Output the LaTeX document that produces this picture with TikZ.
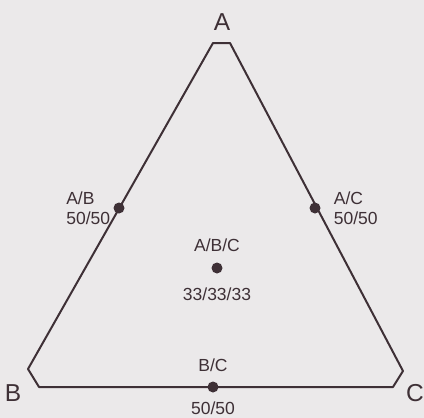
\documentclass[tikz,border=0pt]{standalone}
\usepackage{fontspec}
\setmainfont{Liberation Sans}
\definecolor{paper}{RGB}{235,233,234}
\definecolor{ink}{RGB}{62,48,54}
\tikzset{
  edge/.style={draw=ink,line width=2pt,line join=round},
  dot/.style={circle,fill=ink,inner sep=0pt,minimum size=11pt},
  corner/.style={text=ink,inner sep=0pt,font=\fontsize{24.5}{28}\selectfont},
  mix/.style={text=ink,inner sep=0pt,align=left,font=\fontsize{17.5}{20}\selectfont}
}
\begin{document}
\begin{tikzpicture}[x=1pt,y=-1pt]
   \fill[paper] (0,0) rectangle (424,418);
   \useasboundingbox (0,0) rectangle (424,418);
   \draw[edge] (213,43) -- (230,43) -- (403,371) -- (393,387)
               -- (39,387) -- (28,369) -- cycle;
   \foreach \n/\x/\y in {A/222/22, B/13/393, C/415/393}
     \node[corner] (\n) at (\x,\y) {\n};
   \node[dot,label={[mix,label distance=3pt]left:A/B\\50/50}] (ab) at (119,208) {};
   \node[dot,label={[mix,label distance=13pt]right:A/C\\50/50}] (ac) at (315,208) {};
   \node[dot,label={[mix,label distance=10pt]above:A/B/C},
             label={[mix,label distance=14pt]below:33/33/33}] (abc) at (217,268) {};
   \node[dot,label={[mix,label distance=9pt]above:B/C},
             label={[mix,label distance=9pt]below:50/50}] (bc) at (213,387) {};
\end{tikzpicture}
\end{document}
